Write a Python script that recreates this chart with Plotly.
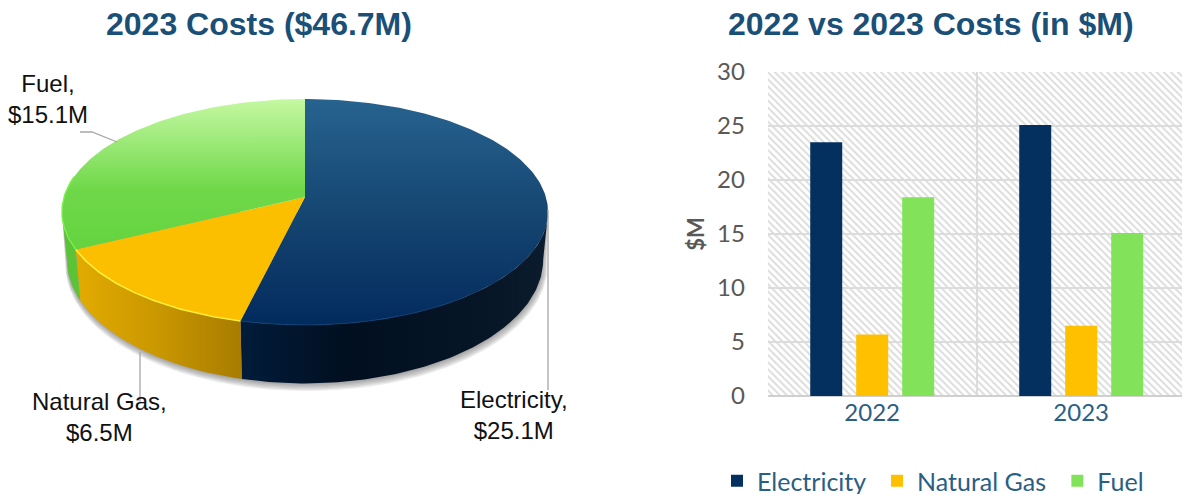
import numpy as np
import plotly.graph_objects as go

# Cost data ($M)
categories = ["Electricity", "Natural Gas", "Fuel"]
costs_2023_pie = [25.1, 6.5, 15.1]
years = ["2022", "2023"]
electricity = [23.5, 25.1]
natural_gas = [5.7, 6.5]
fuel = [18.4, 15.1]
y_ticks = [0, 5, 10, 15, 20, 25, 30]

W, H = 1182, 494
NAVY, AMBER, GREEN = "#03305f", "#ffc000", "#82e35a"
TITLE_BLUE = "#1a4f78"
AXIS_BLUE = "#2a5f85"
GREY = "#595959"
LEADER = "#a6a6a6"

# Pixel box of the bar panel
LEFT, CAT_W = 767.7, 209.0
TOP, BOTTOM = 72.0, 396.0
x_domain = [LEFT / W, 1.0]
y_domain = [1 - BOTTOM / H, 1 - TOP / H]
x_range = [-0.5, -0.5 + (W - LEFT) / CAT_W]

# Perspective projection of the tilted pie disc
CX, CY = 305.0, 197.0
RX, RY = 240.9, 111.0
P = 0.1327
BASE_DY, BASE_SX, BASE_SY = 46.0, 0.98, 1.097


def top_rim(theta):
    u, v = np.sin(theta), -np.cos(theta)
    w = 1 - P * v
    return CX + RX * u / w, CY + RY * v / w


def base_rim(theta, grow=1.0):
    u, v = np.sin(theta), -np.cos(theta)
    w = 1 - P * v
    return CX + RX * BASE_SX * grow * u / w, CY + BASE_DY + RY * BASE_SY * grow * v / w


def arc(a0, a1):
    return np.linspace(a0, a1, max(int(abs(a1 - a0) * 60), 2))


fig = go.Figure()

# Hatched panel background
fig.add_trace(go.Bar(
    x=[0.5], y=[1], width=[1], xaxis="x", yaxis="y", showlegend=False, hoverinfo="skip",
    marker=dict(color="white", line_width=0,
                pattern=dict(shape="\\", size=5, solidity=0.38, fgcolor="#dcdcdc", bgcolor="white")),
))

# Grouped bars
for name, vals, col in [(categories[0], electricity, NAVY),
                        (categories[1], natural_gas, AMBER),
                        (categories[2], fuel, GREEN)]:
    fig.add_trace(go.Bar(name=name + "\u00a0", x=years, y=vals, marker=dict(color=col, line_width=0),
                         xaxis="x2", yaxis="y2"))

# Pie slice boundaries, clockwise from twelve o'clock
total = sum(costs_2023_pie)
edges = np.concatenate([[0], np.cumsum(costs_2023_pie)]) / total * 2 * np.pi
VIS_A, VIS_B = np.arccos(-P), 2 * np.pi - np.arccos(-P)
front = arc(VIS_A, VIS_B)


def polygon(xs, ys, color=None, gradient=None, line=None):
    kw = dict(x=xs, y=ys, mode="lines", fill="toself", xaxis="x3", yaxis="y3",
              showlegend=False, hoverinfo="skip", line=dict(width=0, color="rgba(0,0,0,0)"))
    if color:
        kw["fillcolor"] = color
    if gradient:
        kw["fillgradient"] = gradient
    if line:
        kw["line"] = line
    fig.add_trace(go.Scatter(**kw))


# Soft shadow beneath the disc
for off, grow in [(6, 1.012), (5, 1.01), (4, 1.008), (3, 1.005), (2, 1.002), (1, 1.0)]:
    bx, by = base_rim(front, grow)
    tx, ty = top_rim(front)
    polygon(np.r_[tx[0], bx + off * 0.25, tx[-1]], np.r_[ty[0], by + off, ty[-1]],
            color="rgba(60,60,60,0.09)")

# Extruded side walls
side_fill = [
    dict(type="horizontal", start=241, stop=548,
         colorscale=[[0, "#011c3a"], [0.35, "#010f20"], [0.8, "#071626"], [1, "#0b1c2e"]]),
    dict(type="horizontal", start=76, stop=241,
         colorscale=[[0, "#e2ab00"], [0.5, "#c99700"], [1, "#a87c00"]]),
    dict(type="horizontal", start=60, stop=80,
         colorscale=[[0, "#5cc236"], [1, "#5cc236"]]),
]
for i in range(3):
    a0, a1 = max(edges[i], VIS_A), min(edges[i + 1], VIS_B)
    t = arc(a0, a1)
    tx, ty = top_rim(t)
    bx, by = base_rim(t)
    polygon(np.r_[tx, bx[::-1]], np.r_[ty, by[::-1]], gradient=side_fill[i])

# Top faces
top_fill = [
    dict(type="vertical", start=99, stop=325, colorscale=[[0, "#27638f"], [0.5, "#164672"], [1, "#022b5d"]]),
    dict(type="vertical", start=99, stop=325, colorscale=[[0, "#fcbf00"], [1, "#fcbf00"]]),
    dict(type="vertical", start=99, stop=250, colorscale=[[0, "#c5f8a2"], [0.6, "#6fd84a"], [1, "#64d33e"]]),
]
for i in range(3):
    tx, ty = top_rim(arc(edges[i], edges[i + 1]))
    polygon(np.r_[CX, tx], np.r_[CY, ty], gradient=top_fill[i])

# Bright edge along the rim of each slice
for i, (col, wid) in enumerate([("#0f3f72", 1.0), ("#fdee3c", 1.6), ("#7cf04e", 1.4)]):
    a0, a1 = edges[i], edges[i + 1]
    if i == 0:
        a0 = np.pi * 0.8
    if i == 2:
        a1 = 2 * np.pi * 0.78
    tx, ty = top_rim(arc(a0, a1))
    fig.add_trace(go.Scatter(x=tx, y=ty, mode="lines", line=dict(color=col, width=wid),
                             xaxis="x3", yaxis="y3", showlegend=False, hoverinfo="skip"))

# Leader lines from the disc to its labels
for path in ["M 80 132 L 92 132 L 117 142", "M 140 352 L 140 403", "M 548 210 L 548 390"]:
    fig.add_shape(type="path", path=path, xref="x3", yref="y3", layer="above",
                  line=dict(color=LEADER, width=1.3))

# Text labels
LABEL_FONT = dict(family="Liberation Sans", size=24, color="#111111")
pie_labels = [
    (48, 99, "Fuel,<br>$15.1M"),
    (99, 417, "Natural Gas,<br>$6.5M"),
    (514, 415, "Electricity,<br>$25.1M"),
]
annotations = [
    dict(x=x / W, y=1 - y / H, xref="paper", yref="paper", text=t, showarrow=False,
         font=LABEL_FONT, align="center", xanchor="center", yanchor="middle")
    for x, y, t in pie_labels
]
for x, text in [(259, "2023 Costs ($46.7M)"), (931, "2022 vs 2023 Costs (in $M)")]:
    annotations.append(dict(x=x / W, y=1 - 24 / H, xref="paper", yref="paper", text=f"<b>{text}</b>",
                            showarrow=False, xanchor="center", yanchor="middle",
                            font=dict(family="Liberation Sans", size=32, color=TITLE_BLUE)))

hidden = dict(visible=False, fixedrange=True, automargin=False)
fig.update_layout(
    template="none",
    width=W, height=H, autosize=False,
    margin=dict(l=0, r=0, t=0, b=0, pad=0, autoexpand=False),
    paper_bgcolor="white", plot_bgcolor="rgba(0,0,0,0)",
    barmode="group", bargap=0.34, bargroupgap=0.304,
    annotations=annotations,
    showlegend=True,
    legend=dict(orientation="h", x=717 / W, y=1 - 481 / H, xanchor="left", yanchor="middle",
                font=dict(family="Lato", size=25, color=AXIS_BLUE), bgcolor="rgba(0,0,0,0)",
                itemclick=False, itemdoubleclick=False),
    xaxis=dict(hidden, domain=x_domain, range=[0, 1], anchor="y"),
    yaxis=dict(hidden, domain=y_domain, range=[0, 1], anchor="x"),
    xaxis2=dict(domain=x_domain, range=x_range, anchor="y2", type="category", tickson="boundaries",
                automargin=False,
                showgrid=True, gridcolor="#dcdcdc", gridwidth=1.5, showline=False, zeroline=False,
                ticks="outside", ticklen=32, tickcolor="rgba(0,0,0,0)",
                tickfont=dict(family="Lato", size=24, color=AXIS_BLUE)),
    yaxis2=dict(domain=y_domain, range=[0, 30], anchor="x2", tickvals=y_ticks, automargin=False,
                showgrid=True, gridcolor="#dcdcdc", gridwidth=1.5, zeroline=True,
                zerolinecolor="#cfcfcf", zerolinewidth=2,
                ticks="outside", ticklen=17, tickcolor="rgba(0,0,0,0)",
                tickfont=dict(family="Lato", size=24, color=GREY),
                title=dict(text="<b>$M</b>", standoff=6, font=dict(family="Lato", size=22, color=GREY))),
    xaxis3=dict(hidden, domain=[0, 1], range=[0, W], anchor="y3"),
    yaxis3=dict(hidden, domain=[0, 1], range=[H, 0], anchor="x3"),
)

fig.write_html("out.html", config=dict(displayModeBar=False))
